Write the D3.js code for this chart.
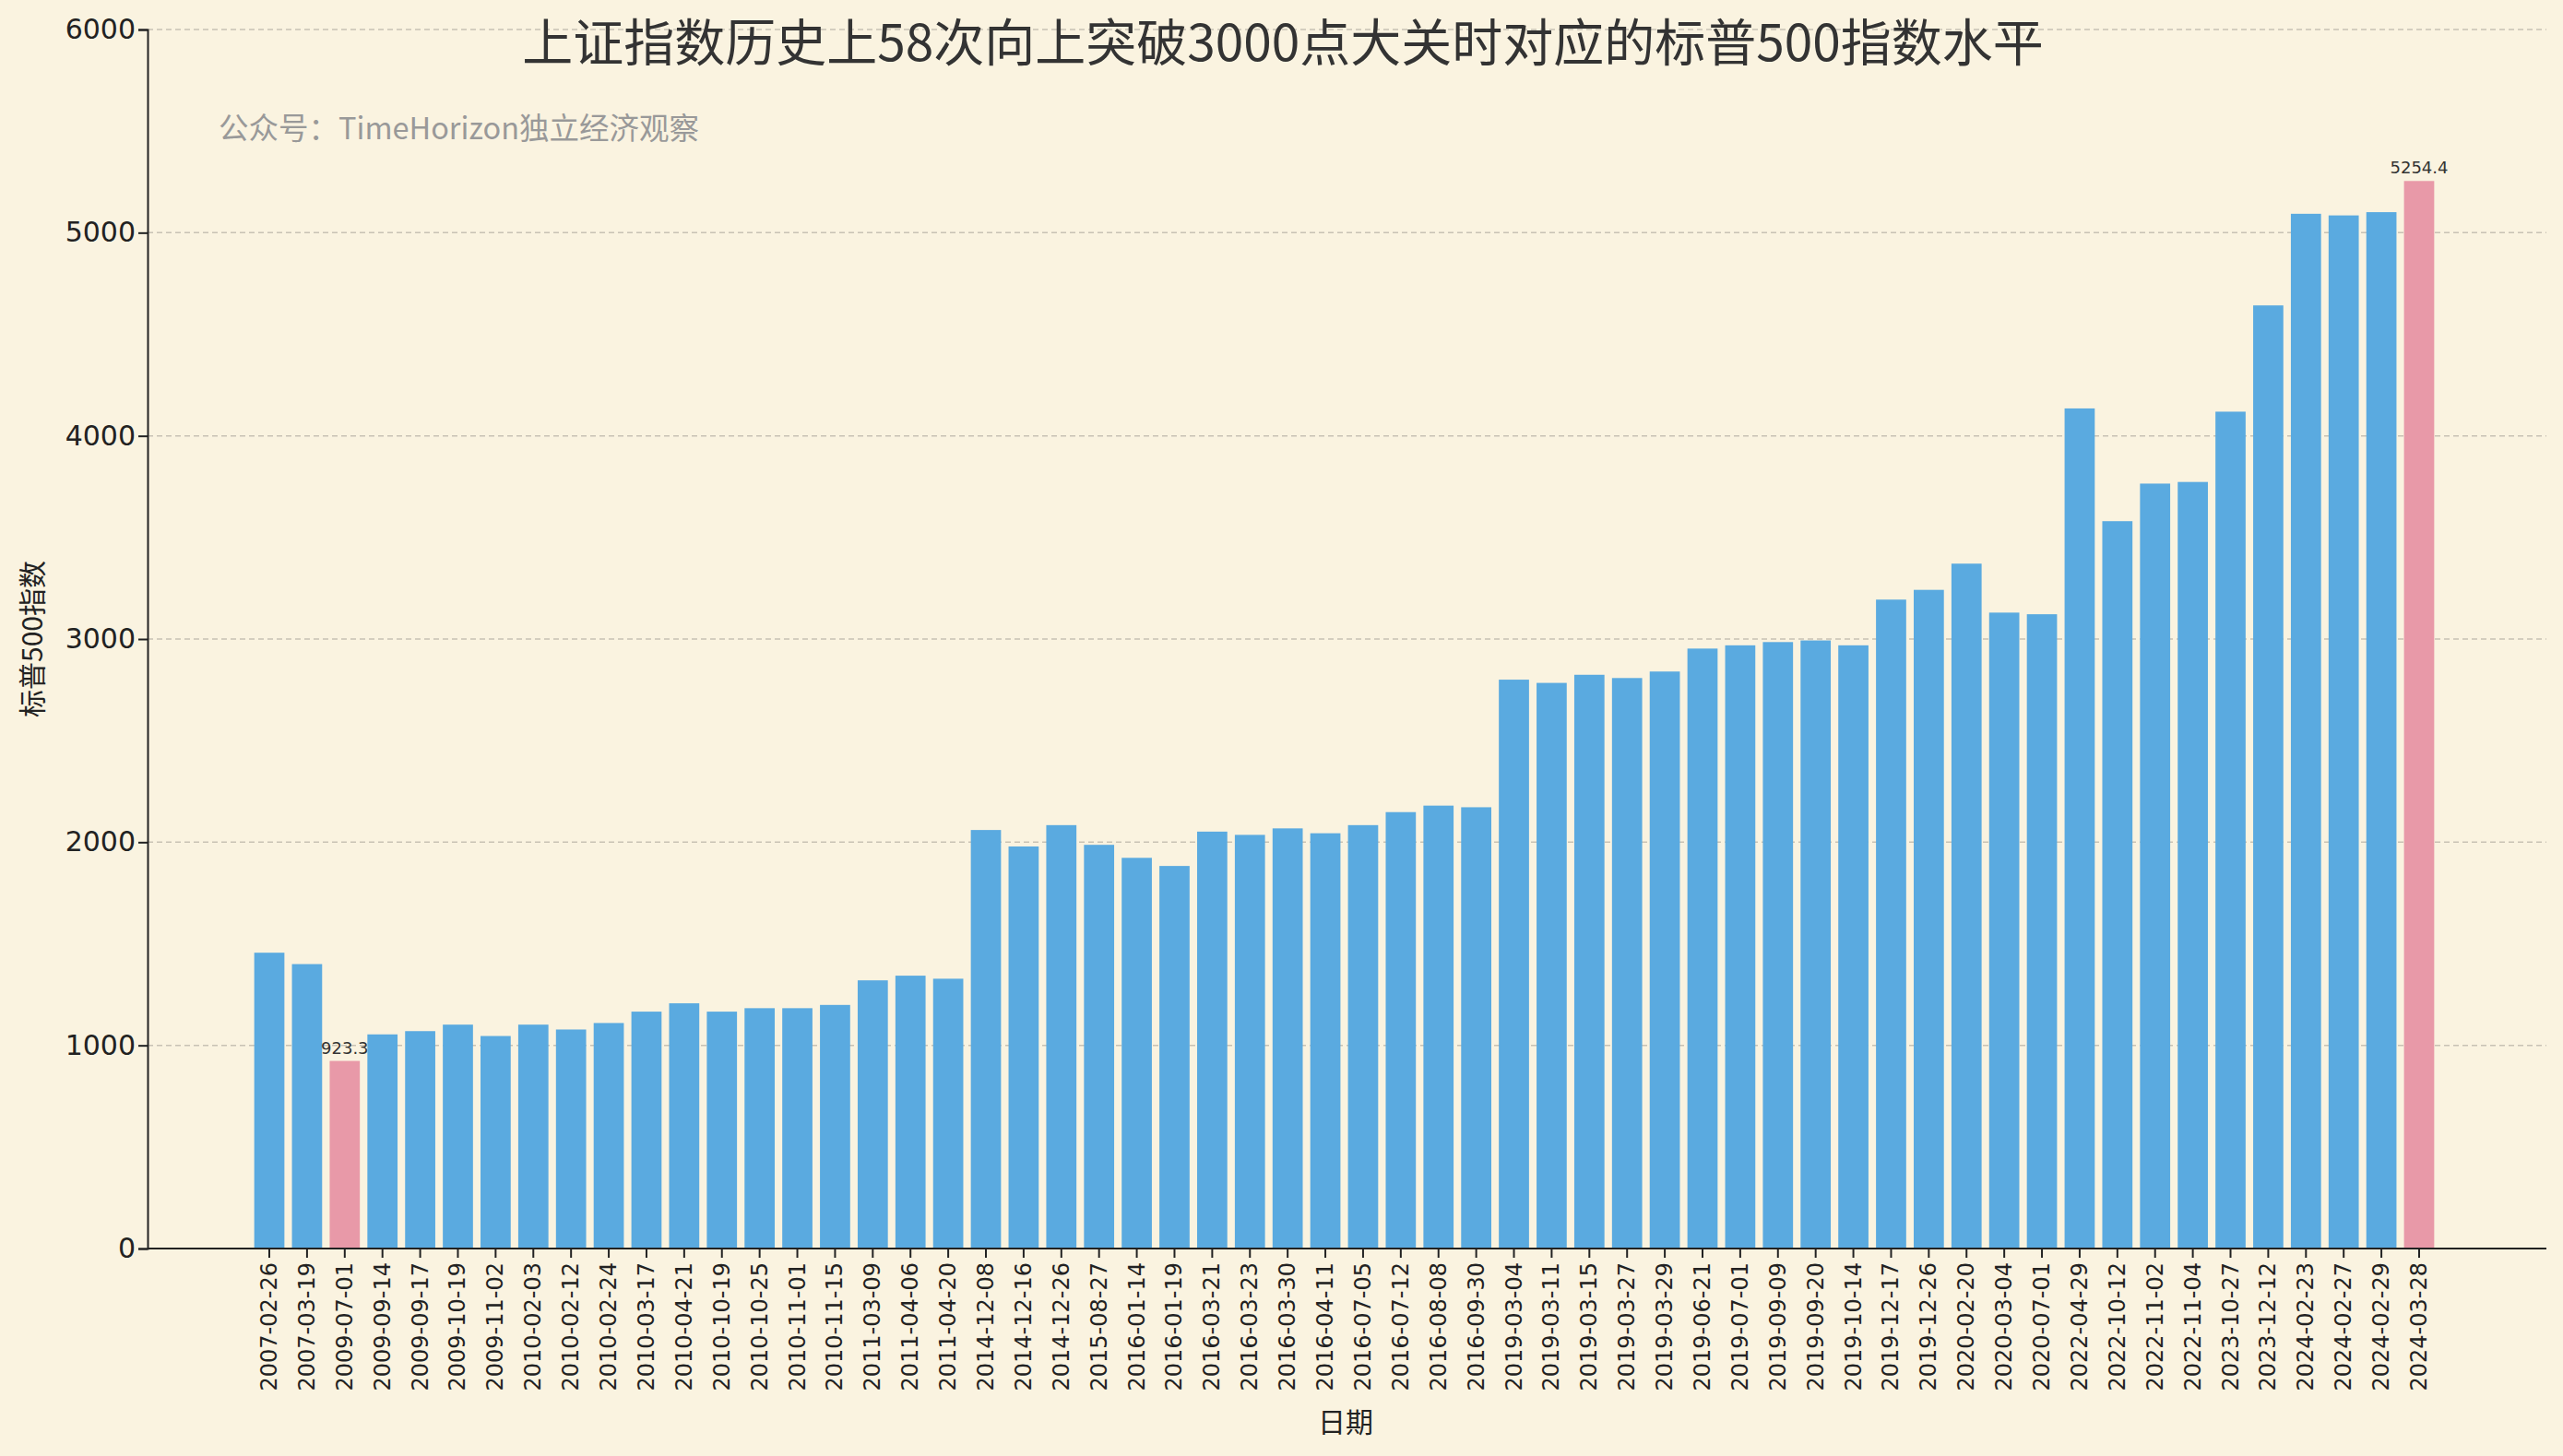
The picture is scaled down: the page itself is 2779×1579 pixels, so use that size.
<!DOCTYPE html>
<html><head><meta charset="utf-8">
<script src="https://cdn.jsdelivr.net/npm/d3@7/dist/d3.min.js"></script>
<style>body{margin:0;background:#faf3e0;}svg{display:block;font-family:"Noto Sans CJK SC","DejaVu Sans",sans-serif;}</style>
</head><body><svg id="c" width="2779" height="1579"></svg>
<script>
const dates=["2007-02-26","2007-03-19","2009-07-01","2009-09-14","2009-09-17","2009-10-19","2009-11-02","2010-02-03","2010-02-12","2010-02-24","2010-03-17","2010-04-21","2010-10-19","2010-10-25","2010-11-01","2010-11-15","2011-03-09","2011-04-06","2011-04-20","2014-12-08","2014-12-16","2014-12-26","2015-08-27","2016-01-14","2016-01-19","2016-03-21","2016-03-23","2016-03-30","2016-04-11","2016-07-05","2016-07-12","2016-08-08","2016-09-30","2019-03-04","2019-03-11","2019-03-15","2019-03-27","2019-03-29","2019-06-21","2019-07-01","2019-09-09","2019-09-20","2019-10-14","2019-12-17","2019-12-26","2020-02-20","2020-03-04","2020-07-01","2022-04-29","2022-10-12","2022-11-02","2022-11-04","2023-10-27","2023-12-12","2024-02-23","2024-02-27","2024-02-29","2024-03-28"];
const spx=[1456,1400,923.3,1054,1070,1102,1046,1102,1078,1110,1166,1207,1166,1183,1183,1199,1320,1343,1328,2060,1979,2084,1987,1923,1883,2052,2036,2068,2044,2084,2148,2180,2172,2800,2784,2824,2808,2840,2953,2969,2985,2993,2969,3194,3242,3371,3130,3122,4135,3580,3765,3773,4119,4642,5093,5085,5101,5254.4];
const yTicks=[0,1000,2000,3000,4000,5000,6000];
const title="上证指数历史上58次向上突破3000点大关时对应的标普500指数水平";
const subtitle="公众号：TimeHorizon独立经济观察";

const svg=d3.select("#c");
const L=160,R=2761,T=32,B=1354;
svg.append("rect").attr("width",2779).attr("height",1579).attr("fill","#faf3e0");
const c0=288,c1=2627;
const step=(c1-c0)/57;
const x=d3.scaleBand().domain(dates).range([c0-step/2,c1+step/2]).padding(0.2);
const y=d3.scaleLinear().domain([0,6000]).range([B,T]);
const minI=spx.indexOf(d3.min(spx)),maxI=spx.indexOf(d3.max(spx));
svg.append("g").selectAll("line").data(yTicks.slice(1)).join("line")
 .attr("x1",L).attr("x2",R).attr("y1",d=>y(d)).attr("y2",d=>y(d))
 .attr("stroke","#c8c2b4").attr("stroke-dasharray","6,4").attr("stroke-width",1.5);
svg.append("g").selectAll("rect").data(spx).join("rect")
 .attr("x",(d,i)=>x(dates[i])).attr("width",x.bandwidth())
 .attr("y",d=>y(d)).attr("height",d=>B-y(d))
 .attr("fill",(d,i)=>(i===minI||i===maxI)?"#e899a8":"#5aaae0");
[minI,maxI].forEach(i=>{
 svg.append("text").attr("x",x(dates[i])+x.bandwidth()/2).attr("y",y(spx[i])-8)
  .attr("text-anchor","middle").attr("font-size",18).attr("font-family","DejaVu Sans").attr("fill","#333").text(spx[i].toFixed(1));
});
const ya=svg.append("g").attr("transform",`translate(${L},0)`).call(d3.axisLeft(y).tickValues(yTicks).tickSize(10).tickFormat(d3.format("d")));
ya.selectAll("text").attr("font-size",30).attr("font-family","DejaVu Sans").attr("fill","#222");
const xa=svg.append("g").attr("transform",`translate(0,${B})`).call(d3.axisBottom(x).tickSize(10));
xa.select(".domain").attr("d",`M${L},0H${R}`);
xa.selectAll("text").attr("font-size",24).attr("font-family","DejaVu Sans").attr("fill","#222")
 .attr("text-anchor","end").attr("x",0).attr("y",0).attr("dx",0).attr("dy",0).attr("transform","translate(0,15) rotate(-90)").attr("dominant-baseline","central");
svg.selectAll(".domain,.tick line").attr("stroke","#222").attr("stroke-width",2);
svg.append("text").attr("x",1391).attr("y",66).attr("text-anchor","middle").attr("font-size",55).attr("fill","#333").text(title);
svg.append("text").attr("x",237).attr("y",151).attr("font-size",32.5).attr("fill","#999").text(subtitle);
svg.append("text").attr("transform","translate(46,693) rotate(-90)").attr("text-anchor","middle").attr("font-size",30).attr("fill","#222").text("标普500指数");
svg.append("text").attr("x",1459).attr("y",1553).attr("text-anchor","middle").attr("font-size",30).attr("fill","#222").text("日期");
</script></body></html>
